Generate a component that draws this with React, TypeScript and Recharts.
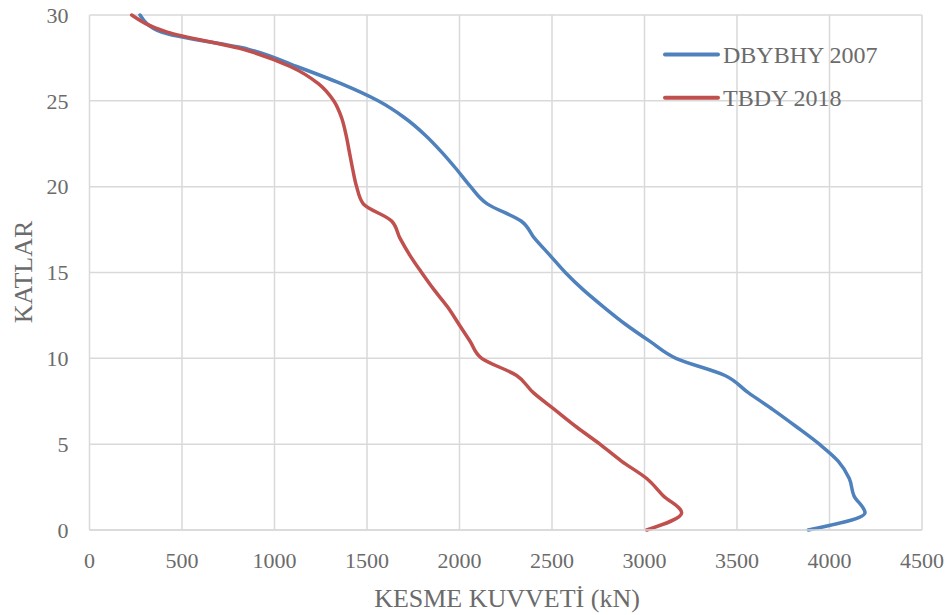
import { CartesianGrid, Legend, Line, LineChart, XAxis, YAxis } from "recharts";

// floors (KATLAR) and shear force per floor
const FLOORS = [
  0, 1, 2, 3, 4, 5, 6, 7, 8, 9, 10, 11, 12, 13, 14, 15, 16, 17, 18, 19, 20,
  21, 22, 23, 24, 25, 26, 27, 28, 29, 30,
];
const DBYBHY_2007 = [
  3885, 4192, 4132, 4107, 4048, 3945, 3823, 3696, 3561, 3435, 3170, 3028,
  2895, 2778, 2668, 2572, 2489, 2405, 2333, 2150, 2060, 1985, 1905, 1815,
  1705, 1560, 1360, 1120, 860, 390, 273,
];
const TBDY_2018 = [
  3012, 3201, 3101, 3012, 2877, 2759, 2633, 2516, 2399, 2309, 2120, 2057,
  1996, 1935, 1862, 1795, 1732, 1678, 1633, 1480, 1444, 1423, 1405, 1387,
  1363, 1320, 1237, 1085, 831, 420, 228,
];
const X_TICKS = [0, 500, 1000, 1500, 2000, 2500, 3000, 3500, 4000, 4500];
const Y_TICKS = [0, 5, 10, 15, 20, 25, 30];

const SERIES = [
  { key: "dbybhy", name: "DBYBHY 2007", color: "#4F81BD" },
  { key: "tbdy", name: "TBDY 2018", color: "#C0504D" },
];

const rows = FLOORS.map((f, i) => ({
  floor: f,
  dbybhy: DBYBHY_2007[i],
  tbdy: TBDY_2018[i],
}));

const FONT = "'Liberation Serif', 'Times New Roman', serif";
const TEXT = "#6b6b6b";
const GRID = "#d9d9d9";

function LegendBox() {
  return (
    <svg width={240} height={90} style={{ display: "block" }}>
      {SERIES.map((s, i) => (
        <g key={s.key}>
          <line
            x1={5}
            x2={58}
            y1={24.5 + i * 43.3}
            y2={24.5 + i * 43.3}
            stroke={s.color}
            strokeWidth={4}
            strokeLinecap="round"
          />
          <text
            x={63}
            y={32.5 + i * 43}
            fontFamily={FONT}
            fontSize={24}
            fill={TEXT}
          >
            {s.name}
          </text>
        </g>
      ))}
    </svg>
  );
}

export default function App() {
  return (
    <div style={{ position: "absolute", left: 0, top: 0, background: "#fff" }}>
      <LineChart
        width={952}
        height={615}
        data={rows}
        layout="vertical"
        margin={{ top: 15, right: 30, bottom: 0, left: 0 }}
      >
        <CartesianGrid stroke={GRID} strokeWidth={1.5} />
        <XAxis
          type="number"
          dataKey="dbybhy"
          domain={[0, 4500]}
          ticks={X_TICKS}
          interval={0}
          height={85}
          tickSize={0}
          tickMargin={22}
          axisLine={{ stroke: GRID, strokeWidth: 1.5 }}
          tickLine={false}
          tick={{ fill: TEXT, fontSize: 22, fontFamily: FONT }}
          label={{
            position: "insideBottom",
            content: () => (
              <text
                x={507}
                y={607}
                textAnchor="middle"
                fontFamily={FONT}
                fontSize={26}
                fill={TEXT}
              >
                KESME KUVVETİ (kN)
              </text>
            ),
          }}
        />
        <YAxis
          type="number"
          dataKey="floor"
          domain={[0, 30]}
          ticks={Y_TICKS}
          interval={0}
          reversed
          width={89.5}
          tickSize={0}
          tickMargin={21}
          axisLine={false}
          tickLine={false}
          tick={{ fill: TEXT, fontSize: 22, fontFamily: FONT }}
          label={{
            position: "insideLeft",
            content: () => (
              <text
                x={32}
                y={272}
                textAnchor="middle"
                transform="rotate(-90, 32, 272)"
                fontFamily={FONT}
                fontSize={26}
                fill={TEXT}
              >
                KATLAR
              </text>
            ),
          }}
        />
        <Legend
          layout="horizontal"
          align="center"
          verticalAlign="middle"
          wrapperStyle={{ left: 660, top: 30, width: 240, height: 90 }}
          content={() => <LegendBox />}
        />
        {SERIES.map((s) => (
          <Line
            key={s.key}
            type="monotone"
            dataKey={s.key}
            name={s.name}
            stroke={s.color}
            strokeWidth={3.5}
            strokeLinecap="round"
            dot={false}
            activeDot={false}
            isAnimationActive={false}
          />
        ))}
      </LineChart>
    </div>
  );
}
